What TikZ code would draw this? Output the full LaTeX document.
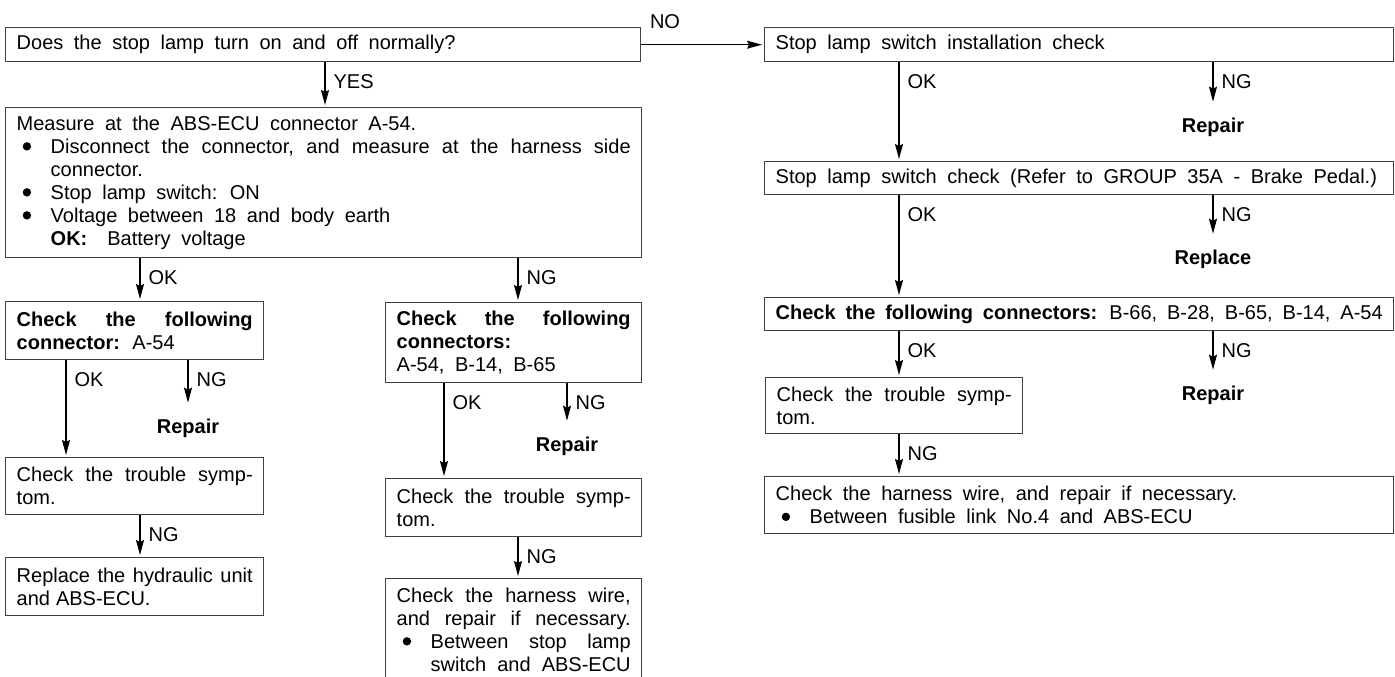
\documentclass[tikz,border=0pt]{standalone}
\usepackage{fontspec}
\setmainfont{Liberation Sans}[WordSpace=1.9]
\usepackage{tikz}
\usetikzlibrary{arrows.meta}
\definecolor{frame}{HTML}{404040}
\hyphenpenalty=10000
\newcommand{\bitem}{\par\noindent\hangindent=34pt\hangafter=1\makebox[34pt][l]{\hspace{6pt}\tikz[baseline=-7pt]\fill (0,0) circle (4.2pt);}}

\begin{document}
\begin{tikzpicture}[x=1pt,y=-1pt,
  every node/.style={font=\fontsize{20}{23}\selectfont},
  box/.style={draw=frame,line width=1.4pt,anchor=north west,inner xsep=11pt,inner ysep=0pt,align=justify},
  arr/.style={line width=1.2pt,-{Stealth[length=15pt,width=8pt,inset=2pt]},shorten >=2pt},
  lbl/.style={anchor=west,xshift=6pt,yshift=-19pt,inner sep=2pt},
  fix/.style={inner sep=0pt,outer ysep=14pt,font=\fontsize{20}{23}\selectfont\bfseries}]
\useasboundingbox (0,0) rectangle (1395,677);
% left part
\node[box,text width=613pt,minimum height=34pt] (q1) at (5,27) {Does the stop lamp turn on and off normally?};
\node[box,text width=614pt,minimum height=150pt] (meas) at (5,107) {Measure at the ABS-ECU connector A-54.\bitem Disconnect the connector, and measure at the harness side\linebreak connector.\bitem Stop lamp switch: ON\bitem Voltage between 18 and body earth\par\noindent\hspace*{34pt}\textbf{OK:}\hspace{20pt}Battery voltage\par};
\node[box,text width=236pt,minimum height=58pt] (cL) at (5,301) {\textbf{Check the following\linebreak connector:} A-54};
\node[box,text width=234pt,minimum height=80pt] (cM) at (385,302) {\textbf{Check the following\linebreak connectors:}\\A-54, B-14, B-65};
\node[box,text width=236pt,minimum height=57pt] (tL) at (5,457) {Check the trouble symp-\linebreak tom.};
\node[box,text width=236pt,minimum height=58pt] (rL) at (5,557) {\spaceskip=6pt plus 3pt minus 2pt Replace the hydraulic unit\linebreak and ABS-ECU.};
\node[box,text width=234pt,minimum height=58pt] (tM) at (385,478) {Check the trouble symp-\linebreak tom.};
\node[box,text width=234pt,minimum height=102pt] (hM) at (385,578) {\parfillskip=0pt Check the harness wire,\linebreak and repair if necessary.\bitem Between stop lamp\linebreak switch and ABS-ECU\par};
\node[fix] (rp1) at (188,428) {Repair};
\node[fix] (rp2) at (567,446) {Repair};
% right part
\node[box,text width=607pt,minimum height=34pt] (r1) at (764,27) {Stop lamp switch installation check};
\node[box,text width=607pt,minimum height=33pt] (r2) at (764,161) {Stop lamp switch check (Refer to GROUP 35A - Brake Pedal.)};
\node[box,text width=607pt,minimum height=33pt] (r3) at (764,297) {\textbf{Check the following connectors:} B-66, B-28, B-65, B-14, A-54};
\node[box,text width=235pt,minimum height=56pt] (r4) at (765,377) {Check the trouble symp-\linebreak tom.};
\node[box,text width=607pt,minimum height=57pt] (r5) at (764,476) {Check the harness wire, and repair if necessary.\bitem Between fusible link No.4 and ABS-ECU\par};
\node[fix] (rp3) at (1213,127) {Repair};
\node[fix] (rp4) at (1213,259) {Replace};
\node[fix] (rp5) at (1213,395) {Repair};
% connectors
\draw[arr] (q1.east) node[anchor=west,xshift=6pt,yshift=23pt,inner sep=2pt] {NO} -- (r1.west);
\draw[arr] ([xshift=320pt]q1.south west) node[lbl] {YES} -- ([xshift=320pt]meas.north west);
\draw[arr] ([xshift=135pt]meas.south west) node[lbl] {OK} -- ([xshift=135pt]cL.north west);
\draw[arr] ([xshift=513pt]meas.south west) node[lbl] {NG} -- ([xshift=133pt]cM.north west);
\draw[arr] ([xshift=61pt]cL.south west) node[lbl] {OK} -- ([xshift=61pt]tL.north west);
\draw[arr] (rp1 |- cL.south) node[lbl] {NG} -- (rp1.north);
\draw[arr] ([xshift=59pt]cM.south west) node[lbl] {OK} -- ([xshift=59pt]tM.north west);
\draw[arr] (rp2 |- cM.south) node[lbl] {NG} -- (rp2.north);
\draw[arr] ([xshift=135pt]tL.south west) node[lbl] {NG} -- ([xshift=135pt]rL.north west);
\draw[arr] ([xshift=133pt]tM.south west) node[lbl] {NG} -- ([xshift=133pt]hM.north west);
\draw[arr] ([xshift=135pt]r1.south west) node[lbl] {OK} -- ([xshift=135pt]r2.north west);
\draw[arr] (rp3 |- r1.south) node[lbl] {NG} -- (rp3.north);
\draw[arr] ([xshift=135pt]r2.south west) node[lbl] {OK} -- ([xshift=135pt]r3.north west);
\draw[arr] (rp4 |- r2.south) node[lbl] {NG} -- (rp4.north);
\draw[arr] ([xshift=135pt]r3.south west) node[lbl] {OK} -- ([xshift=134pt]r4.north west);
\draw[arr] (rp5 |- r3.south) node[lbl] {NG} -- (rp5.north);
\draw[arr] ([xshift=134pt]r4.south west) node[lbl] {NG} -- ([xshift=135pt]r5.north west);
\end{tikzpicture}
\end{document}
